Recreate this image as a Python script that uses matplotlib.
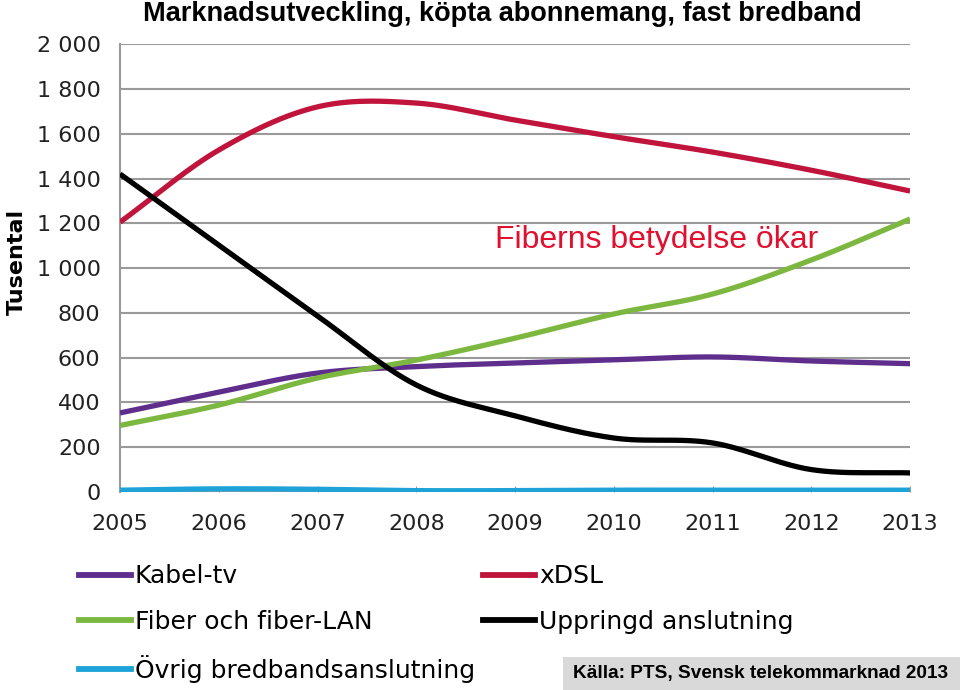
import numpy as np
import matplotlib
matplotlib.use('Agg')
import matplotlib.pyplot as plt
from matplotlib.lines import Line2D
from matplotlib.patches import Rectangle

# Data (thousands of subscriptions)
years = [2005, 2006, 2007, 2008, 2009, 2010, 2011, 2012, 2013]
kabel_tv = [353, 446, 531, 560, 576, 590, 603, 585, 573]
xdsl = [1205, 1527, 1720, 1737, 1661, 1587, 1518, 1437, 1344]
fiber = [297, 388, 509, 589, 687, 795, 884, 1036, 1219]
uppringd = [1420, 1103, 786, 478, 340, 241, 219, 100, 85]
ovrig = [8, 14, 12, 6, 6, 8, 8, 8, 8]

series = [
    ('Kabel-tv', kabel_tv, '#5f2d8c'),
    ('xDSL', xdsl, '#c0143c'),
    ('Fiber och fiber-LAN', fiber, '#7cb83f'),
    ('Uppringd anslutning', uppringd, '#000000'),
    ('Övrig bredbandsanslutning', ovrig, '#1ea3d8'),
]


# Catmull-Rom smoothing, similar to Excel's smoothed lines
def smooth(x, y, n=30):
    x = np.asarray(x, float)
    y = np.asarray(y, float)
    px = np.concatenate([[2 * x[0] - x[1]], x, [2 * x[-1] - x[-2]]])
    py = np.concatenate([[2 * y[0] - y[1]], y, [2 * y[-1] - y[-2]]])
    xs, ys = [], []
    t = np.linspace(0, 1, n, endpoint=False)
    for i in range(1, len(px) - 2):
        for p, out in ((px, xs), (py, ys)):
            p0, p1, p2, p3 = p[i - 1], p[i], p[i + 1], p[i + 2]
            out.append(0.5 * ((2 * p1) + (-p0 + p2) * t
                              + (2 * p0 - 5 * p1 + 4 * p2 - p3) * t ** 2
                              + (-p0 + 3 * p1 - 3 * p2 + p3) * t ** 3))
    xs.append([x[-1]])
    ys.append([y[-1]])
    return np.concatenate(xs), np.concatenate(ys)


fig = plt.figure(figsize=(9.6, 6.9), dpi=100)
ax = fig.add_axes([0.125, 0.287, 0.823, 0.649])

for name, vals, col in series:
    sx, sy = smooth(years, vals)
    ax.plot(sx, sy, color=col, lw=3.8, solid_capstyle='butt', zorder=3)

ax.set_xlim(2005, 2013)
ax.set_ylim(0, 2000)
ax.set_yticks(range(0, 2001, 200))
ax.set_yticklabels([f'{v:,}'.replace(',', ' ') for v in range(0, 2001, 200)])
ax.set_xticks(years)
ax.grid(axis='y', color='#9a9a9a', lw=1.5, zorder=0)
ax.grid(axis='x', visible=False)
for s in ['top', 'right', 'bottom']:
    ax.spines[s].set_visible(False)
ax.spines['left'].set_color('#9a9a9a')
ax.spines['left'].set_linewidth(1.5)
ax.tick_params(axis='y', length=0, pad=14, labelsize=16, colors='#222222')
ax.tick_params(axis='x', direction='in', length=4, color='#9a9a9a', pad=16,
               labelsize=16, labelcolor='#222222')

fig.text(0.018, 0.62, 'Tusental', rotation=90, ha='center', va='center',
         fontsize=16, fontweight='bold')

fig.text(0.523, 0.979, 'Marknadsutveckling, köpta abonnemang, fast bredband',
         ha='center', va='center', fontsize=19.5, fontweight='bold',
         family='Liberation Sans')

ax.text(2008.8, 1125, 'Fiberns betydelse ökar', color='#e0102e',
        fontsize=23, family='Liberation Sans', ha='left', va='center')

handles = [Line2D([], [], color=c, lw=4.2) for _, _, c in series]
labels = [n for n, _, _ in series]
order = [0, 2, 4, 1, 3]
fig.legend([handles[i] for i in order], [labels[i] for i in order],
           ncol=2, loc='upper left', bbox_to_anchor=(0.082, 0.182),
           frameon=False, fontsize=18, handlelength=2.1, handletextpad=0.15,
           columnspacing=0.3, labelspacing=0.85, borderaxespad=0,
           borderpad=0)

fig.add_artist(Rectangle((0.586, 0), 0.414, 0.048, transform=fig.transFigure,
                         fc='#d9d9d9', ec='none', zorder=0))
fig.text(0.792, 0.0246, 'Källa: PTS, Svensk telekommarknad 2013',
         ha='center', va='center', fontsize=13.7, fontweight='bold',
         family='Liberation Sans')

fig.savefig('out.png', dpi=100)
